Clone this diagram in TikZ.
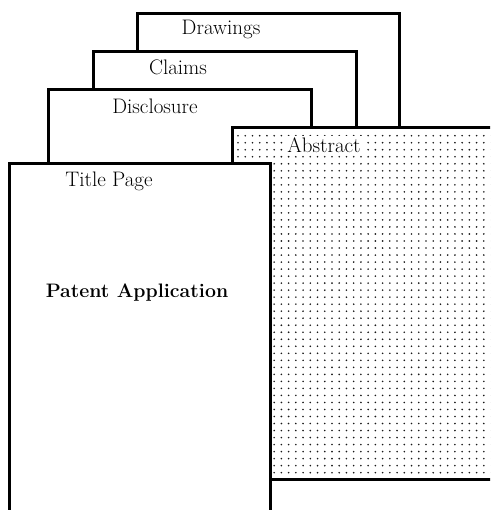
\documentclass[tikz,border=0pt]{standalone}
\usepackage{fontspec}
\begin{document}
\begin{tikzpicture}[x=1pt,y=-1pt,
  page/.style={draw=black,fill=white,line width=3pt,anchor=north west,inner sep=0pt,outer sep=0pt},
  label/.style={font=\fontsize{21}{25}\selectfont,inner sep=0pt},
  heading/.style={font=\fontsize{19.5}{23}\selectfont\bfseries,inner sep=0pt}]
\useasboundingbox (0,0) rectangle (490,510);
\clip (0,0) rectangle (490,510);

% stacked sheets, back to front
\node[page,minimum width=262pt,minimum height=130pt] (drawings) at (137,14) {};
\node[page,minimum width=263pt,minimum height=100pt] (claims) at (93,52) {};
\node[page,minimum width=263pt,minimum height=90pt] (disclosure) at (48,90) {};
\node[page,minimum width=270pt,minimum height=351pt] (abstract) at (232,128) {};

% dotted screen on the abstract sheet
\fill[black!90] foreach \i in {0,...,35} { foreach \j in {0,...,48} {
  ({238+7.23*\i},{135.7+7.02*\j}) circle (0.9pt) } };

\node[page,minimum width=261pt,minimum height=360pt] (title) at (9,164) {};

% sheet labels
\node[label] (tDrawings) at (221,29) {Drawings};
\node[label] (tClaims) at (178,67) {Claims};
\node[label] (tDisclosure) at (155,106) {Disclosure};
\node[label,fill=white,inner sep=1pt] (tAbstract) at (324,145) {Abstract};
\node[label] (tTitle) at (109,181) {Title Page};
\node[heading] (tPatent) at (137,293) {Patent Application};
\end{tikzpicture}
\end{document}
